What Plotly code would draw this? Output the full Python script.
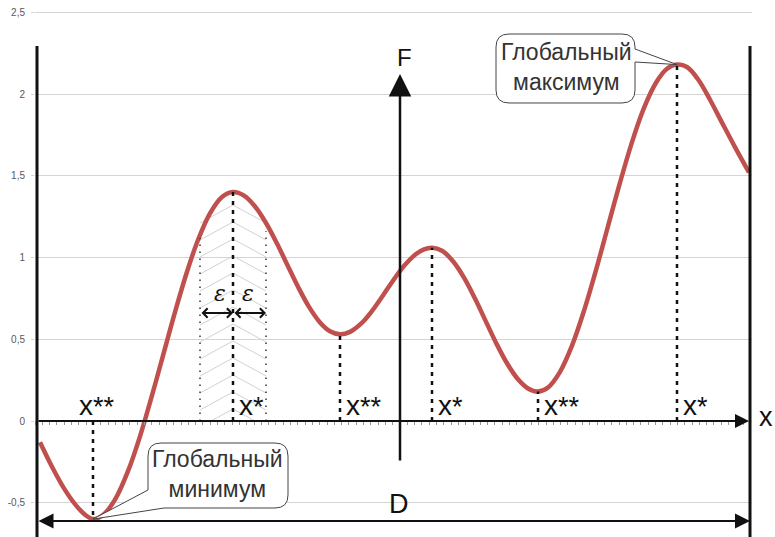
import plotly.graph_objects as go

# ---------------- canvas / scale helpers (layout, not data) ----------------
W, H = 775, 537
PLOT_L, PLOT_R = 35, 752
X_ORIGIN_PX = 400
Y_ZERO_PX = 421
PX_PER_UNIT = 163.5


def X(px):
    return px - X_ORIGIN_PX


def Y(py):
    return (Y_ZERO_PX - py) / PX_PER_UNIT


def PXF(px):
    return (px - PLOT_L) / (PLOT_R - PLOT_L)


X_RANGE = [X(PLOT_L), X(PLOT_R)]
Y_RANGE = [Y(H), Y(0)]

# ---------------- data ----------------
curve_x = [-360, -348, -336, -324, -314, -307, -297, -285, -272, -260, -248, -237,
           -225, -213, -202, -190, -178, -167, -156, -145, -134, -123, -113, -102,
           -91, -80, -70, -60, -50, -39, -28, -17, -6, 5, 16, 24, 32, 42, 53, 64,
           75, 85, 96, 107, 118, 128, 138, 148, 160, 172, 184, 196, 208, 220, 232,
           244, 256, 267, 277, 287, 298, 310, 322, 335, 349]
curve_y = [-0.130, -0.280, -0.412, -0.516, -0.578, -0.600, -0.575, -0.481, -0.307, -0.094,
           0.156, 0.400, 0.666, 0.913, 1.107, 1.270, 1.370, 1.400, 1.378, 1.312, 1.211,
           1.085, 0.959, 0.821, 0.698, 0.603, 0.549, 0.530, 0.545, 0.595, 0.673, 0.768,
           0.867, 0.955, 1.021, 1.050, 1.060, 1.041, 0.977, 0.877, 0.749, 0.620, 0.479,
           0.353, 0.255, 0.199, 0.180, 0.205, 0.301, 0.461, 0.674, 0.923, 1.191, 1.458,
           1.706, 1.915, 2.069, 2.154, 2.180, 2.165, 2.090, 1.965, 1.825, 1.675, 1.520]

ext_x = [-307, -167, -60, 32, 138, 277]
ext_y = [-0.60, 1.40, 0.53, 1.06, 0.18, 2.18]
ext_base = ["x", "x", "x", "x", "x", "x"]
ext_stars = ["**", "*", "**", "*", "**", "*"]

ytick_vals = [-0.5, 0, 0.5, 1, 1.5, 2, 2.5]
ytick_text = ["-0,5", "0", "0,5", "1", "1,5", "2", "2,5"]

D_left, D_right = -363, 350
eps = 33
eps_top = [1.12, 1.16]

max_text = "Глобальный<br>максимум"
min_text = "Глобальный<br>минимум"

# ---------------- figure ----------------
fig = go.Figure()

# hatch (chevrons) inside the epsilon neighbourhood
cx = ext_x[1]
hx, hy = [], []
apex = Y(205)
step = 17 / PX_PER_UNIT
drop = 18 / PX_PER_UNIT
a = apex
while a > 0:
    for side in (-1, 1):
        if a - drop >= 0:
            ex, ey = cx + side * eps, a - drop
        else:
            ex, ey = cx + side * eps * (a / drop), 0
        hx += [cx, ex, None]
        hy += [a, ey, None]
    a -= step
fig.add_trace(go.Scatter(x=hx, y=hy, mode="lines",
                         line=dict(color="#d2d2d2", width=1), hoverinfo="skip"))

# red function curve
fig.add_trace(go.Scatter(x=curve_x, y=curve_y, mode="lines",
                         line=dict(color="#c0504d", width=4.5, shape="spline", smoothing=1.0),
                         hoverinfo="skip"))

shapes = []
# dotted lines from extrema to x axis
for xe, ye in zip(ext_x, ext_y):
    shapes.append(dict(type="line", xref="x", yref="y", x0=xe, x1=xe, y0=0, y1=ye,
                       line=dict(color="#111", width=2.5, dash="4px,5px"), layer="above"))
# epsilon boundaries
for side, top in zip((-1, 1), eps_top):
    shapes.append(dict(type="line", xref="x", yref="y", x0=cx + side * eps, x1=cx + side * eps,
                       y0=0, y1=top, line=dict(color="#333", width=1.5, dash="1.5px,5.5px"),
                       layer="above"))
# thick boundaries of D
for xb in (D_left, D_right):
    shapes.append(dict(type="line", xref="x", yref="y", x0=xb, x1=xb, y0=Y(46), y1=Y_RANGE[0],
                       line=dict(color="#111", width=3), layer="above"))


def P(x, y):
    return f"{x:.2f},{y:.4f}"


def Pp(px, py):
    return P(X(px), Y(py))


# callout for global maximum (pointer on right side)
imax = ext_y.index(max(ext_y))
tipmax = P(ext_x[imax], ext_y[imax])
x0, y0, x1, y1, r = 496, 34, 635, 103, 13
path_max = ("M" + Pp(x0 + r, y0) + " L" + Pp(x1 - r, y0) + " Q" + Pp(x1, y0) + " " + Pp(x1, y0 + r)
            + " L" + Pp(x1, 49) + " L" + tipmax + " L" + Pp(x1, 62)
            + " L" + Pp(x1, y1 - r) + " Q" + Pp(x1, y1) + " " + Pp(x1 - r, y1)
            + " L" + Pp(x0 + r, y1) + " Q" + Pp(x0, y1) + " " + Pp(x0, y1 - r)
            + " L" + Pp(x0, y0 + r) + " Q" + Pp(x0, y0) + " " + Pp(x0 + r, y0) + " Z")
shapes.append(dict(type="path", xref="x", yref="y", path=path_max, fillcolor="white",
                   line=dict(color="#444", width=1), layer="above"))

# callout for global minimum (pointer at lower-left corner)
imin = ext_y.index(min(ext_y))
tipmin = P(ext_x[imin], ext_y[imin])
x0, y0, x1, y1, r = 148, 443, 288, 508, 13
path_min = ("M" + Pp(x0 + r, y0) + " L" + Pp(x1 - r, y0) + " Q" + Pp(x1, y0) + " " + Pp(x1, y0 + r)
            + " L" + Pp(x1, y1 - r) + " Q" + Pp(x1, y1) + " " + Pp(x1 - r, y1)
            + " L" + Pp(164, y1) + " L" + tipmin + " L" + Pp(x0, 490)
            + " L" + Pp(x0, y0 + r) + " Q" + Pp(x0, y0) + " " + Pp(x0 + r, y0) + " Z")
shapes.append(dict(type="path", xref="x", yref="y", path=path_min, fillcolor="white",
                   line=dict(color="#444", width=1), layer="above"))

ann = []
FONT = "Liberation Sans, Arial, sans-serif"


def arrow(xh, yh, xt, yt, head, width, size, both=False, color="#111"):
    d = dict(x=xh, y=yh, ax=xt, ay=yt, xref="x", yref="y", axref="x", ayref="y",
             text="", showarrow=True, arrowhead=head, arrowwidth=width, arrowsize=size,
             arrowcolor=color)
    if both:
        d.update(arrowside="end+start", startarrowhead=head, startarrowsize=size)
    return d


# x axis arrow, F axis arrow, D arrow, epsilon arrows
ann.append(arrow(D_right - 1, 0, D_left, 0, 2, 2, 1.4))
ann.append(arrow(0, Y(74), 0, Y(462), 2, 2.5, 1.8))
ann.append(arrow(D_right, Y(521), D_left, Y(521), 2, 2, 1.5, both=True))
ann.append(arrow(cx, Y(313), cx - eps, Y(313), 4, 2, 0.9, both=True))
ann.append(arrow(cx + eps, Y(313), cx, Y(313), 4, 2, 0.9, both=True))

# texts
ann.append(dict(x=X(404), y=Y(57), xref="x", yref="y", text="F", showarrow=False,
                font=dict(family=FONT, size=24, color="#111")))
ann.append(dict(x=X(399), y=Y(504), xref="x", yref="y", text="D", showarrow=False,
                font=dict(family=FONT, size=27, color="#111")))
ann.append(dict(x=PXF(766), y=Y(417), xref="paper", yref="y", text="x", showarrow=False,
                xanchor="center", yanchor="middle",
                font=dict(family=FONT, size=27, color="#111")))
for xe_off in (-180 - cx, -152 - cx):
    ann.append(dict(x=cx + xe_off, y=Y(293), xref="x", yref="y", text="<i>ε</i>",
                    showarrow=False, font=dict(family="DejaVu Serif", size=22, color="#111")))

# x*, x** labels: base letter plus raised asterisks
X_GLYPH_W = 14
for i, (xe, base, stars) in enumerate(zip(ext_x, ext_base, ext_stars)):
    left = xe - 16 if i == 0 else xe + 4
    ann.append(dict(x=left, y=Y(405), xref="x", yref="y", text=base, showarrow=False,
                    xanchor="left", yanchor="middle",
                    font=dict(family=FONT, size=28, color="#111")))
    ann.append(dict(x=left + X_GLYPH_W, y=Y(407), xref="x", yref="y", text=stars,
                    showarrow=False, xanchor="left", yanchor="middle",
                    font=dict(family=FONT, size=27, color="#111")))

ann.append(dict(x=X(566), y=Y(67), xref="x", yref="y", text=max_text, showarrow=False,
                font=dict(family=FONT, size=23, color="#333")))
ann.append(dict(x=X(217), y=Y(474), xref="x", yref="y", text=min_text, showarrow=False,
                font=dict(family=FONT, size=23, color="#333")))

fig.update_layout(
    width=W, height=H,
    margin=dict(l=PLOT_L, r=W - PLOT_R, t=0, b=0),
    plot_bgcolor="white", paper_bgcolor="white",
    showlegend=False,
    shapes=shapes, annotations=ann,
    xaxis=dict(range=X_RANGE, showgrid=False, zeroline=False, showline=False,
               showticklabels=False, ticks="outside", ticklen=3, tickwidth=1,
               tickcolor="#999", tick0=0, dtick=7.3, anchor="free",
               position=(0 - Y_RANGE[0]) / (Y_RANGE[1] - Y_RANGE[0])),
    yaxis=dict(range=Y_RANGE, tickvals=ytick_vals, ticktext=ytick_text,
               showgrid=True, gridcolor="#d4d4d4", gridwidth=1, zeroline=False,
               showline=False, ticks="outside", ticklen=3, tickcolor="#d4d4d4",
               ticklabelstandoff=4,
               tickfont=dict(family=FONT, size=10, color="#595959")),
)

fig.write_html("out.html")
